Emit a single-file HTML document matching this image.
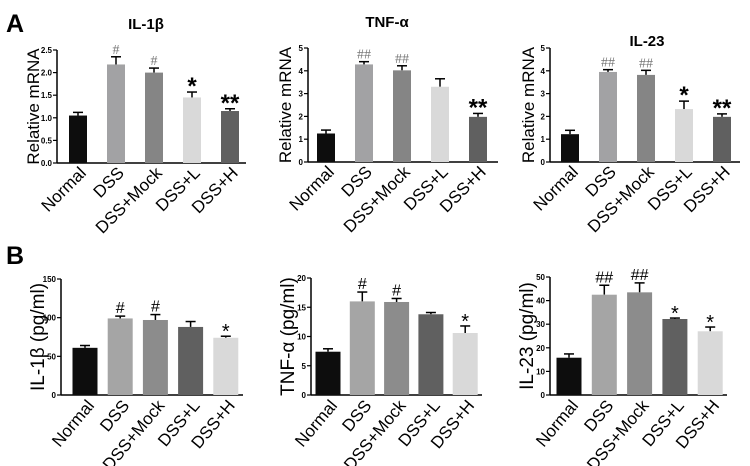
<!DOCTYPE html>
<html><head><meta charset="utf-8"><style>
html,body{margin:0;padding:0;background:#fff;}
svg{display:block;font-family:"Liberation Sans",Arial,sans-serif;}
</style></head><body>
<svg id="fig" width="750" height="466" viewBox="0 0 750 466">
<text x="6" y="32" font-size="25" font-weight="bold">A</text>
<text x="6" y="264" font-size="25" font-weight="bold">B</text>
</svg>
<script>
const categories = ["Normal","DSS","DSS+Mock","DSS+L","DSS+H"];
const a1Values = [1.05,2.18,2.0,1.45,1.15];
const a1Errors = [0.07,0.17,0.1,0.12,0.05];
const a1Marks = ["","#","#","*","**"];
const a1Ticks = ["0.0","0.5","1.0","1.5","2.0","2.5"];
const a2Values = [1.25,4.28,4.02,3.3,1.98];
const a2Errors = [0.15,0.12,0.2,0.35,0.15];
const a2Marks = ["","##","##","","**"];
const a2Ticks = ["0","1","2","3","4","5"];
const a3Values = [1.22,3.95,3.82,2.32,1.98];
const a3Errors = [0.17,0.1,0.2,0.35,0.13];
const a3Marks = ["","##","##","*","**"];
const a3Ticks = ["0","1","2","3","4","5"];
const b1Values = [61,99,97,88,74];
const b1Errors = [3,3,7,7,2];
const b1Marks = ["","#","#","","*"];
const b1Ticks = ["0","50","100","150"];
const b2Values = [7.4,16,15.9,13.8,10.6];
const b2Errors = [0.5,1.6,0.6,0.3,1.2];
const b2Marks = ["","#","#","","*"];
const b2Ticks = ["0","5","10","15","20"];
const b3Values = [15.8,42.5,43.5,32.2,27];
const b3Errors = [1.6,4,4,0.4,1.8];
const b3Marks = ["","##","##","*","*"];
const b3Ticks = ["0","10","20","30","40","50"];

const NS="http://www.w3.org/2000/svg";
const svg=document.getElementById('fig');
function mk(tag,attrs,parent){const e=document.createElementNS(NS,tag);for(const k in attrs)e.setAttribute(k,attrs[k]);(parent||svg).appendChild(e);return e;}

const colA=["#0d0d0d","#a2a2a4","#858585","#d9d9d9","#606060"];
const colB=["#0d0d0d","#a5a5a5","#8c8c8c","#606060","#d9d9d9"];

function chart(o){
  const g=mk('g',{});
  
  
  const max=o.max;
  const y=v=>o.y0-(v/max)*(o.y0-o.yTop);
  const x=i=>o.x0+o.first+i*o.step;
  const ya=mk('line',{x1:o.x0,y1:o.y0,x2:o.x0,y2:o.yTop,stroke:'#000','stroke-width':1.5},g);
  
  
  const xa=mk('line',{x1:o.x0,y1:o.y0,x2:o.xEnd,y2:o.y0,stroke:'#000','stroke-width':1.5},g);
  
  
  o.ticks.forEach((t,i)=>{
    const v=i*max/(o.ticks.length-1);
    mk('line',{x1:o.x0-4,y1:y(v),x2:o.x0,y2:y(v),stroke:'#000','stroke-width':1.2},g);
    const tx=mk('text',{x:o.x0-5,y:y(v)+3,'font-size':o.tickSize,'font-weight':'bold','text-anchor':'end'},g);
    tx.textContent=t;
    
    
  });
  o.values.forEach((v,i)=>{
    const cx=x(i);
    const top=y(v+o.errors[i]);
    mk('line',{x1:cx,y1:y(v),x2:cx,y2:top,stroke:'#000','stroke-width':1.5},g);
    mk('line',{x1:cx-5,y1:top,x2:cx+5,y2:top,stroke:'#000','stroke-width':1.5},g);
    const r=mk('rect',{x:cx-o.bw/2,y:y(v),width:o.bw,height:o.y0-y(v),fill:o.colors[i]},g);
    
    
    if(o.marks[i]){
      const isHash=o.marks[i].includes('#');
      const m=mk('text',{x:cx,y:isHash?top-3:top+o.starDy,'text-anchor':'middle','font-size':isHash?o.hashSize:o.starSize,
        'font-family':isHash&&o.panel==='A'?'"Liberation Serif",serif':'"Liberation Sans",sans-serif',
        fill:isHash&&o.panel==='A'?'#777':'#000','font-weight':isHash?'normal':o.starWeight},g);
      m.textContent=o.marks[i];
      
      
    }
    const lx=cx+o.lblDx, ly=o.y0+o.lblDy;
    const l=mk('text',{x:lx,y:ly,'font-size':o.lblSize,'text-anchor':'end',transform:`rotate(${o.rot} ${lx} ${ly})`},g);
    l.textContent=categories[i];
    
    
  });
  const yl=mk('text',{x:o.ylx,y:(o.y0+o.yTop)/2,'font-size':o.ylSize,'text-anchor':'middle',transform:`rotate(-90 ${o.ylx} ${(o.y0+o.yTop)/2})`},g);
  yl.textContent=o.ylabel;
  
  
  if(o.title){
    const t=mk('text',{x:o.tx,y:o.ty,'font-size':15,'font-weight':'bold','text-anchor':'middle'},g);
    t.textContent=o.title;
    
    
  }
}
const baseA={panel:'A',bw:18,step:38,first:21,tickSize:8,lblSize:17,rot:-45,lblDx:9,lblDy:11,hashSize:14,starSize:24,starDy:2,starWeight:'bold',colors:colA,ylSize:17,ylabel:'Relative mRNA'};
chart(Object.assign({},baseA,{name:'chart-a-il1b',x0:57,y0:163,yTop:50,xEnd:246,max:2.5,values:a1Values,errors:a1Errors,marks:a1Marks,ticks:a1Ticks,ylx:39,title:'IL-1β',tx:146,ty:29}));
chart(Object.assign({},baseA,{name:'chart-a-tnfa',x0:308,y0:162,yTop:48,xEnd:498,max:5,values:a2Values,errors:a2Errors,marks:a2Marks,ticks:a2Ticks,ylx:291,title:'TNF-α',tx:387,ty:27,first:18}));
chart(Object.assign({},baseA,{name:'chart-a-il23',x0:550,y0:162,yTop:48,xEnd:740,max:5,values:a3Values,errors:a3Errors,marks:a3Marks,ticks:a3Ticks,ylx:534,title:'IL-23',tx:647,ty:46,first:20}));
const baseB={panel:'B',bw:25,step:35.2,first:24,tickSize:8,lblSize:17,rot:-50,lblDx:10,lblDy:11,hashSize:16,starSize:20,starDy:2,starWeight:'normal',colors:colB,ylSize:19};
chart(Object.assign({},baseB,{name:'chart-b-il1b',x0:61,y0:395,yTop:279,xEnd:243,max:150,values:b1Values,errors:b1Errors,marks:b1Marks,ticks:b1Ticks,ylx:44,ylabel:'IL-1β (pg/ml)'}));
chart(Object.assign({},baseB,{name:'chart-b-tnfa',x0:311,y0:395,yTop:278,xEnd:482,max:20,values:b2Values,errors:b2Errors,marks:b2Marks,ticks:b2Ticks,ylx:294,ylabel:'TNF-α (pg/ml)',first:17,step:34.3}));
chart(Object.assign({},baseB,{name:'chart-b-il23',x0:550,y0:395,yTop:277,xEnd:727,max:50,values:b3Values,errors:b3Errors,marks:b3Marks,ticks:b3Ticks,ylx:533,ylabel:'IL-23 (pg/ml)',first:19,step:35.3}));
</script>
</body></html>
